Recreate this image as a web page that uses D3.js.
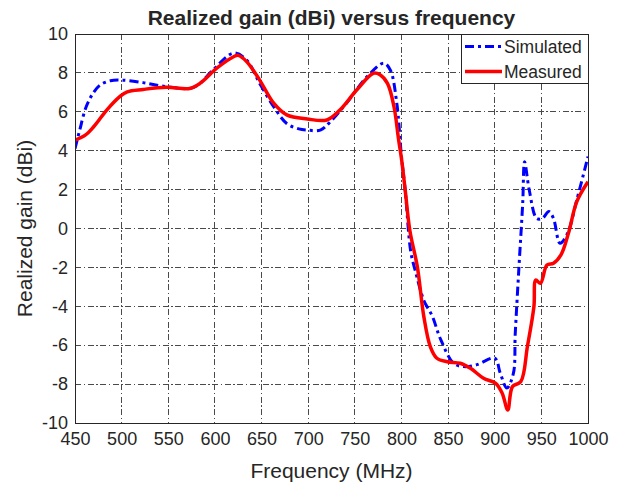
<!DOCTYPE html>
<html>
<head>
<meta charset="utf-8">
<script src="https://cdn.jsdelivr.net/npm/d3@7"></script>
<style>
  body { margin: 0; background: #fff; }
  text { font-family: "Liberation Sans", Arial, sans-serif; fill: #262626; }
</style>
</head>
<body>
<svg id="chart" width="624" height="485"></svg>
<script>
const xTicks = [450, 500, 550, 600, 650, 700, 750, 800, 850, 900, 950, 1000]
const yTicks = [-10, -8, -6, -4, -2, 0, 2, 4, 6, 8, 10]

const simFreq = [450, 455, 462, 470, 477, 488, 500, 523, 548, 573, 582, 598, 620, 634, 648, 663, 677, 690, 699, 713, 724, 741, 763, 781, 788, 795, 800, 804, 810, 815, 824, 833, 842, 856, 867, 881, 900, 906, 913, 920, 922, 926, 930, 932, 937, 945, 951, 958, 963, 970, 978, 988, 1000]
const simGain = [4.1, 5.05, 6.26, 7.0, 7.38, 7.6, 7.63, 7.5, 7.29, 7.2, 7.38, 8.15, 9.02, 8.66, 7.46, 6.26, 5.4, 5.12, 5.06, 5.06, 5.5, 6.44, 7.8, 8.5, 8.15, 6.44, 3.7, 1.98, -1.2, -2.2, -3.7, -4.5, -5.7, -6.93, -7.1, -7.0, -6.67, -7.45, -8.2, -7.45, -5.4, -1.96, 1.3, 3.43, 1.98, 0.52, 0.52, 0.87, 0.52, -0.76, -0.25, 1.47, 3.7]

const measFreq = [450, 461, 470, 484, 498, 506, 523, 548, 573, 584, 602, 620, 625, 634, 648, 663, 677, 699, 720, 734, 752, 770, 777, 785, 792, 797, 800, 804, 809, 817, 824, 831, 838, 849, 863, 874, 888, 901, 908, 914, 919, 928, 935, 942, 944, 949, 956, 963, 971, 979, 988, 1000]
const measGain = [4.55, 4.8, 5.23, 6.09, 6.78, 7.03, 7.15, 7.26, 7.2, 7.46, 8.24, 8.83, 8.9, 8.58, 7.63, 6.44, 5.84, 5.63, 5.58, 6.09, 7.12, 7.98, 7.9, 7.46, 6.26, 4.55, 3.6, 1.98, -0.1, -1.96, -4.53, -6.08, -6.67, -6.85, -6.93, -7.19, -7.7, -7.96, -8.47, -9.33, -8.13, -7.87, -6.08, -4.02, -2.65, -2.82, -1.88, -1.79, -1.36, -0.25, 1.38, 2.4]

const seriesNames = ['Simulated', 'Measured']
const seriesColors = ['#0000ff', '#ff0000']

const pdg = { l: 75, r: 36, t: 34, b: 62 }
const W = 624, H = 485
const boardW = W - pdg.l - pdg.r
const boardH = H - pdg.t - pdg.b

const svg = d3.select('#chart')

const x = d3.scaleLinear().domain([450, 1000]).range([pdg.l, pdg.l + boardW])
const y = d3.scaleLinear().domain([-10, 10]).range([pdg.t + boardH, pdg.t])

// grid
let gridG = svg.append('g')
gridG.selectAll('.vgrid')
    .data(xTicks.slice(1, -1))
    .enter().append('line')
    .attr('x1', d => x(d)).attr('x2', d => x(d))
    .attr('y1', pdg.t).attr('y2', pdg.t + boardH)
gridG.selectAll('.hgrid')
    .data(yTicks.slice(1, -1))
    .enter().append('line')
    .attr('y1', d => y(d)).attr('y2', d => y(d))
    .attr('x1', pdg.l).attr('x2', pdg.l + boardW)
gridG.selectAll('line')
    .attr('stroke', '#4a4a4a')
    .attr('stroke-width', 1)
    .attr('stroke-dasharray', '6,2.5,1.5,2.5')
    .attr('shape-rendering', 'crispEdges')

// axes
const xAxis = d3.axisBottom(x).tickValues(xTicks).tickSize(0).tickPadding(9)
    .tickFormat(d => String(d))
const yAxis = d3.axisLeft(y).tickValues(yTicks).tickSize(0).tickPadding(7)
    .tickFormat(d => String(d))

let xAxisG = svg.append('g')
    .attr('transform', 'translate(0,' + (pdg.t + boardH) + ')')
    .call(xAxis)
let yAxisG = svg.append('g')
    .attr('transform', 'translate(' + pdg.l + ',0)')
    .call(yAxis)
svg.selectAll('.domain').remove()
svg.selectAll('.tick text')
    .style('font-size', '18px')
    .attr('fill', '#262626')

// lines
const line = d3.line()
    .x(d => x(d[0]))
    .y(d => y(d[1]))
    .curve(d3.curveCatmullRom.alpha(0.5))

const simData = simFreq.map((f, i) => [f, simGain[i]])
const measData = measFreq.map((f, i) => [f, measGain[i]])

svg.append('defs').append('clipPath').attr('id', 'clippy')
    .append('rect')
    .attr('x', pdg.l).attr('y', pdg.t)
    .attr('width', boardW).attr('height', boardH)

svg.append('path')
    .datum(simData)
    .attr('d', line)
    .attr('fill', 'none')
    .attr('stroke', seriesColors[0])
    .attr('stroke-width', 3)
    .attr('stroke-dasharray', '9,4,3,4')
    .attr('clip-path', 'url(#clippy)')

svg.append('path')
    .datum(measData)
    .attr('d', line)
    .attr('fill', 'none')
    .attr('stroke', seriesColors[1])
    .attr('stroke-width', 3.5)
    .attr('stroke-linejoin', 'round')
    .attr('clip-path', 'url(#clippy)')

// box
svg.append('rect')
    .attr('x', pdg.l).attr('y', pdg.t)
    .attr('width', boardW).attr('height', boardH)
    .attr('fill', 'none')
    .attr('stroke', '#262626')
    .attr('stroke-width', 1)
    .attr('shape-rendering', 'crispEdges')

// titles
svg.append('text')
    .text('Realized gain (dBi) versus frequency')
    .attr('x', pdg.l + boardW / 2)
    .attr('y', 25)
    .style('text-anchor', 'middle')
    .style('font-size', '21px')
    .style('font-weight', 'bold')
    .attr('fill', '#000')

svg.append('text')
    .text('Frequency (MHz)')
    .attr('x', pdg.l + boardW / 2)
    .attr('y', 478)
    .style('text-anchor', 'middle')
    .style('font-size', '21px')

svg.append('text')
    .text('Realized gain (dBi)')
    .attr('transform', 'translate(' + 32 + ',' + (pdg.t + boardH / 2) + ') rotate(-90)')
    .style('text-anchor', 'middle')
    .style('font-size', '21px')

// legend
const legendW = 127, legendH = 49
let legendG = svg.append('g')
    .attr('transform', 'translate(' + [pdg.l + boardW - legendW, pdg.t] + ')')

legendG.append('rect')
    .attr('width', legendW)
    .attr('height', legendH)
    .attr('fill', '#fff')
    .attr('stroke', '#262626')
    .attr('shape-rendering', 'crispEdges')

let itemsG = legendG.selectAll(null)
    .data(seriesNames)
    .enter()
    .append('g')
    .attr('transform', (d, i) => 'translate(0,' + (12.5 + i * 25) + ')')

itemsG.append('line')
    .attr('x1', 4).attr('x2', 41)
    .attr('stroke', (d, i) => seriesColors[i])
    .attr('stroke-width', (d, i) => i == 0 ? 3 : 3.5)
    .attr('stroke-dasharray', (d, i) => i == 0 ? '9,4,3,4' : null)

itemsG.append('text')
    .text(d => d)
    .attr('x', 43)
    .attr('dy', '0.36em')
    .style('font-size', '17.5px')
    .attr('fill', '#000')
</script>
</body>
</html>
